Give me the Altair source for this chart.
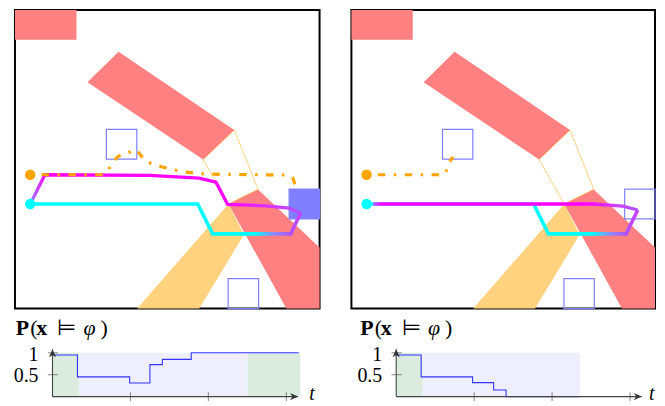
import altair as alt
import pandas as pd

# ---------------- environment (workspace units, 0..10 x 0..10) ----------------
RED_BLOCK = [(0.0, 9.0), (2.02, 9.0), (2.02, 10.0), (0.0, 10.0)]
RED_ARM = [(3.40, 8.60), (2.38, 7.58), (6.18, 4.99), (7.20, 5.98)]
RED_LEG = [(7.01, 3.50), (7.98, 3.99), (10.0, 2.04), (10.0, 0.0), (8.91, 0.0)]
ORANGE_LEG = [(7.01, 3.50), (7.52, 2.48), (6.05, 0.0), (4.01, 0.0)]
GATE = [(6.18, 4.99), (7.20, 5.98), (7.98, 3.99), (7.01, 3.50), (6.18, 4.99)]
BOX_X0 = [3.0, 7.0, 9.0]
BOX_X1 = [4.0, 8.0, 10.0]
BOX_Y0 = [5.0, 0.0, 3.0]
BOX_Y1 = [6.0, 1.0, 4.0]
ORANGE_START = (0.5, 4.48)
CYAN_START = (0.5, 3.5)

# trajectories, left panel
CYAN_L_X = [0.5, 6.0, 6.49, 9.05, 9.38]
CYAN_L_Y = [3.5, 3.5, 2.5, 2.5, 3.2]
MAG_L_X = [9.38, 9.0, 8.23, 6.98, 6.6, 6.05, 4.42, 0.98, 0.56]
MAG_L_Y = [3.19, 3.36, 3.44, 3.49, 4.23, 4.37, 4.46, 4.48, 3.62]
ORA_L_X = [0.87, 2.84, 3.05, 3.2, 3.4, 3.98, 4.3, 4.8, 5.5, 6.3, 9.0, 9.13, 9.21]
ORA_L_Y = [4.48, 4.48, 4.6, 4.9, 5.1, 5.32, 4.92, 4.75, 4.58, 4.5, 4.47, 4.36, 4.09]

# trajectories, right panel
CYAN_R_X = [0.5, 6.0, 6.49, 9.05, 9.43]
CYAN_R_Y = [3.5, 3.5, 2.5, 2.5, 3.3]
MAG_R_X = [9.43, 8.94, 7.96, 0.71]
MAG_R_Y = [3.30, 3.43, 3.50, 3.50]
ORA_R_X = [0.87, 3.05, 3.12, 3.22, 3.35]
ORA_R_Y = [4.48, 4.48, 4.6, 4.9, 5.08]

# ---------------- probability plots ----------------
STEP_L_T = [0.0, 0.32, 0.99, 1.25, 1.41, 1.78, 3.16]
STEP_L_V = [0.95, 0.45, 0.31, 0.73, 0.85, 1.0, 1.0]
SAT_L = [(0.0, 0.34), (2.5, 3.18)]
UNK_L = [(0.34, 2.5)]

STEP_R_T = [0.0, 0.32, 0.98, 1.25, 1.41, 2.34]
STEP_R_V = [0.95, 0.45, 0.32, 0.15, 0.0, 0.0]
SAT_R = [(0.0, 0.34)]
UNK_R = [(0.34, 2.36)]

X_TICKS = [1, 2, 3]
Y_TICKS = [0.5, 1.0]
AX_T_END = 3.15
AX_V_END = 1.08
TITLE_PIECES = ["P", "(", "x", "\u22a8", "\u03c6", ")"]

RED = "#ff8080"
ORANGE_FILL = "#ffd280"
BLUE = "#8080ff"
GREEN_SHADE = "#dbecdf"
LAV_SHADE = "#eeeefc"


def slices(verts, name):
    xs = sorted(set(round(x, 6) for x, _ in verts))
    n = len(verts)
    rows = []
    for xv in xs:
        ys = []
        for k in range(n):
            (x1, y1), (x2, y2) = verts[k], verts[(k + 1) % n]
            if abs(x1 - x2) < 1e-9:
                if abs(x1 - xv) < 1e-9:
                    ys += [y1, y2]
            elif min(x1, x2) - 1e-9 <= xv <= max(x1, x2) + 1e-9:
                ys.append(y1 + (y2 - y1) * (xv - x1) / (x2 - x1))
        rows.append({"shape": name, "x": xv, "lo": min(ys), "hi": max(ys)})
    return rows


def path_df(xs, ys):
    return pd.DataFrame({"i": list(range(len(xs))), "x": xs, "y": ys})


def grad(stops):
    return alt.LinearGradient(
        gradient="linear",
        stops=[alt.GradientStop(color=c, offset=o) for o, c in stops],
        x1=0, x2=1, y1=0, y2=0,
    )


def build_map(width, goal_filled, cx, cy, mx, my, ox, oy, cyan_stops, mag_stops):
    XS = alt.Scale(domain=[0, 10], nice=False, zero=False)
    YS = alt.Scale(domain=[0, 10], nice=False, zero=False)
    X = lambda f: alt.X(f, scale=XS, axis=None)
    Y = lambda f: alt.Y(f, scale=YS, axis=None)

    red_df = pd.DataFrame(slices(RED_BLOCK, "block") + slices(RED_ARM, "arm") + slices(RED_LEG, "leg"))
    ora_df = pd.DataFrame(slices(ORANGE_LEG, "oleg"))

    orange_area = alt.Chart(ora_df).mark_area(orient="vertical", color=ORANGE_FILL, opacity=1).encode(
        x=X("x:Q"), y=Y("lo:Q"), y2="hi:Q", detail="shape:N")
    red_area = alt.Chart(red_df).mark_area(orient="vertical", color=RED, opacity=1).encode(
        x=X("x:Q"), y=Y("lo:Q"), y2="hi:Q", detail="shape:N")
    gate = alt.Chart(path_df([p[0] for p in GATE], [p[1] for p in GATE])).mark_line(
        color="#ffa500", strokeWidth=0.9, opacity=0.55).encode(x=X("x:Q"), y=Y("y:Q"), order="i:Q")

    boxes = pd.DataFrame({"x0": BOX_X0, "x1": BOX_X1, "y0": BOX_Y0, "y1": BOX_Y1,
                          "goal": [False, False, True]})
    box_outline = alt.Chart(boxes).mark_rect(fill=None, stroke=BLUE, strokeWidth=1.2).encode(
        x=X("x0:Q"), x2="x1:Q", y=Y("y0:Q"), y2="y1:Q")
    layers = [orange_area, red_area, gate, box_outline]
    if goal_filled:
        goal = alt.Chart(boxes[boxes["goal"]]).mark_rect(color=BLUE, opacity=1).encode(
            x=X("x0:Q"), x2="x1:Q", y=Y("y0:Q"), y2="y1:Q")
        layers.append(goal)

    cyan = alt.Chart(path_df(cx, cy)).mark_line(color=grad(cyan_stops), strokeWidth=3.6).encode(
        x=X("x:Q"), y=Y("y:Q"), order="i:Q")
    mag = alt.Chart(path_df(mx, my)).mark_line(color=grad(mag_stops), strokeWidth=3.3).encode(
        x=X("x:Q"), y=Y("y:Q"), order="i:Q")
    ora = alt.Chart(path_df(ox, oy)).mark_line(color="#ffa500", strokeWidth=3.2,
                                               strokeDash=[7.5, 8.5, 2.5, 8.5]).encode(
        x=X("x:Q"), y=Y("y:Q"), order="i:Q")
    s_or = alt.Chart(pd.DataFrame({"x": [ORANGE_START[0]], "y": [ORANGE_START[1]]})).mark_circle(
        size=110, opacity=1, color="#ffa500").encode(x=X("x:Q"), y=Y("y:Q"))
    s_cy = alt.Chart(pd.DataFrame({"x": [CYAN_START[0]], "y": [CYAN_START[1]]})).mark_circle(
        size=110, opacity=1, color="#00ffff").encode(x=X("x:Q"), y=Y("y:Q"))
    layers += [cyan, mag, ora, s_or, s_cy]
    return alt.layer(*layers).properties(
        width=width, height=300, view=alt.ViewBackground(stroke="black", strokeWidth=2))


V_LO, V_HI = -0.1023, 1.852


def build_prob(width, t_lo, t_hi, sat, unk, st, sv, title_t, t_label):
    XS = alt.Scale(domain=[t_lo, t_hi], nice=False, zero=False)
    YS = alt.Scale(domain=[V_LO, V_HI], nice=False, zero=False)
    X = lambda f: alt.X(f, scale=XS, axis=None)
    Y = lambda f: alt.Y(f, scale=YS, axis=None)

    def shade_layer(spans, colour):
        d = pd.DataFrame({"t0": [s[0] for s in spans], "t1": [s[1] for s in spans], "lo": 0.0, "hi": 1.0})
        return alt.Chart(d).mark_rect(color=colour, opacity=1).encode(
            x=X("t0:Q"), x2="t1:Q", y=Y("lo:Q"), y2="hi:Q")

    step = alt.Chart(pd.DataFrame({"t": st, "v": sv})).mark_line(
        interpolate="step-after", color="#3535ff", strokeWidth=1.1).encode(x=X("t:Q"), y=Y("v:Q"))

    xt = alt.Chart(pd.DataFrame({"t": X_TICKS, "a": -0.1, "b": 0.1})).mark_rule(
        color="#777777", strokeWidth=0.9).encode(x=X("t:Q"), y=Y("a:Q"), y2="b:Q")
    yt = alt.Chart(pd.DataFrame({"v": Y_TICKS, "a": -0.06, "b": 0.07})).mark_rule(
        color="#777777", strokeWidth=0.9).encode(x=X("a:Q"), x2="b:Q", y=Y("v:Q"))
    xaxis = alt.Chart(pd.DataFrame({"a": [0.0], "b": [AX_T_END], "v": [0.0]})).mark_rule(
        color="#444444", strokeWidth=1.1).encode(x=X("a:Q"), x2="b:Q", y=Y("v:Q"))
    yaxis = alt.Chart(pd.DataFrame({"t": [0.0], "a": [0.0], "b": [AX_V_END]})).mark_rule(
        color="#444444", strokeWidth=1.1).encode(x=X("t:Q"), y=Y("a:Q"), y2="b:Q")
    arrows = alt.Chart(pd.DataFrame({"t": [AX_T_END, 0.0], "v": [0.0, AX_V_END], "ang": [0, 270]})).mark_point(
        shape="M-2,-0.9L0,0L-2,0.9L-1.4,0Z", filled=True, size=64, color="#333333", opacity=1).encode(
        x=X("t:Q"), y=Y("v:Q"), angle=alt.Angle("ang:Q", scale=None))

    lab_df = pd.DataFrame({"t": [0.0, 0.0], "v": Y_TICKS, "label": ["0.5", "1"]})
    lab_half = alt.Chart(lab_df[lab_df["label"] == "0.5"]).mark_text(
        font="Liberation Serif", fontSize=20, align="right", baseline="middle", dx=-14, dy=1,
        color="black").encode(x=X("t:Q"), y=Y("v:Q"), text="label:N")
    lab_one = alt.Chart(lab_df[lab_df["label"] == "1"]).mark_text(
        font="Liberation Serif", fontSize=20, align="right", baseline="middle", dx=-14, dy=2,
        color="black").encode(x=X("t:Q"), y=Y("v:Q"), text="label:N")
    tl = alt.Chart(pd.DataFrame({"t": [t_label], "v": [0.0], "label": ["t"]})).mark_text(
        font="Liberation Serif", fontSize=20, fontStyle="italic", align="center", baseline="alphabetic",
        dy=3, color="black").encode(x=X("t:Q"), y=Y("v:Q"), text="label:N")

    styles = [
        dict(font="Liberation Serif", fontWeight="bold", dx=0),
        dict(font="Liberation Serif", dx=14.5),
        dict(font="Liberation Serif", fontWeight="bold", dx=20.5),
        dict(font="DejaVu Sans", fontWeight=200, dx=41.5),
        dict(font="Liberation Serif", fontStyle="italic", dx=68),
        dict(font="Liberation Serif", dx=85),
    ]
    title_layers = []
    for piece, stl in zip(TITLE_PIECES, styles):
        d = pd.DataFrame({"t": [title_t], "v": [1.398], "label": [piece]})
        title_layers.append(alt.Chart(d).mark_text(
            fontSize=22, align="left", baseline="alphabetic", color="black", **stl).encode(
            x=X("t:Q"), y=Y("v:Q"), text="label:N"))

    return alt.layer(shade_layer(sat, GREEN_SHADE), shade_layer(unk, LAV_SHADE), step, xt, yt,
                     xaxis, yaxis, arrows, lab_half, lab_one, tl,
                     *title_layers).properties(width=width, height=86)


cyan_stops_l = [(0, "#00ffff"), (0.83, "#00ffff"), (0.9, "#8c8cff"), (0.963, "#b050ff"), (1, "#c840ff")]
mag_stops_l = [(0, "#9a78ff"), (0.05, "#ff00ff"), (0.72, "#ff00ff"), (0.87, "#dd30ff"), (1, "#b050ff")]
cyan_stops_r = [(0, "#00ffff"), (0.83, "#00ffff"), (0.9, "#8c8cff"), (0.957, "#b050ff"), (1, "#c840ff")]
mag_stops_r = [(0, "#a070ff"), (0.03, "#ff00ff"), (0.8, "#ff00ff"), (0.92, "#d040ff"), (1, "#b050ff")]

map_l = build_map(306, True, CYAN_L_X, CYAN_L_Y, MAG_L_X, MAG_L_Y, ORA_L_X, ORA_L_Y, cyan_stops_l, mag_stops_l)
map_r = build_map(305, False, CYAN_R_X, CYAN_R_Y, MAG_R_X, MAG_R_Y, ORA_R_X, ORA_R_Y, cyan_stops_r, mag_stops_r)

prob_l = build_prob(306, -0.4815, 3.4266, SAT_L, UNK_L, STEP_L_T, STEP_L_V, -0.47, 3.33)
prob_r = build_prob(305, -0.5747, 3.3206, SAT_R, UNK_R, STEP_R_T, STEP_R_V, -0.46, 3.28)

col_l = alt.vconcat(map_l, prob_l, spacing=7, bounds="flush")
col_r = alt.vconcat(map_r, prob_r, spacing=7, bounds="flush")

chart = alt.hconcat(col_l, col_r, spacing=29).properties(
    padding={"left": 5, "top": 0, "right": 0, "bottom": 0}
).configure_view(strokeWidth=0)

chart.save("out.html", embed_options={"renderer": "svg", "actions": False})
